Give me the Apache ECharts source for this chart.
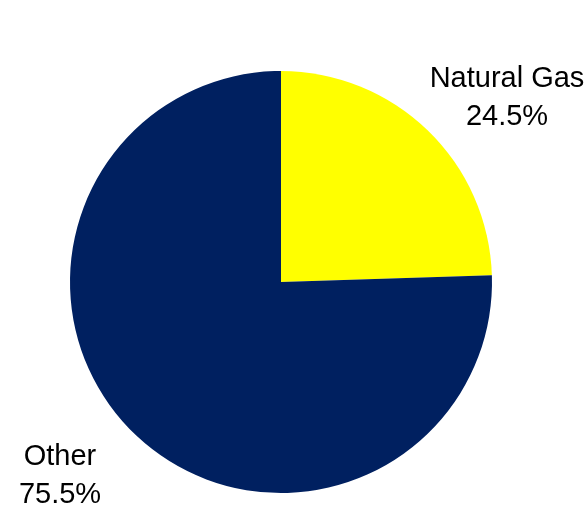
<!DOCTYPE html>
<html>
<head>
<meta charset="utf-8">
<script src="https://cdn.jsdelivr.net/npm/echarts@6/dist/echarts.min.js"></script>
<style>
  html, body { margin: 0; padding: 0; background: #ffffff; }
  #chart { width: 588px; height: 507px; }
</style>
</head>
<body>
<div id="chart"></div>
<script>
// Share of energy supply
const categories = ['Natural Gas', 'Other'];
const shares = [24.5, 75.5];
const colors = ['#FFFF00', '#002060'];

// Where each slice label block sits (centre of the two-line text)
const labelSpots = [[507, 98], [60, 476]];

const chart = echarts.init(document.getElementById('chart'), null, { renderer: 'canvas' });

chart.setOption({
  animation: false,
  backgroundColor: '#ffffff',
  series: [{
    type: 'pie',
    center: [281, 282],
    radius: [0, 211],
    startAngle: 90,
    clockwise: true,
    data: categories.map((name, i) => ({
      name: name,
      value: shares[i],
      itemStyle: { color: colors[i] }
    })),
    itemStyle: { borderWidth: 0 },
    label: {
      show: true,
      position: 'inside',
      formatter: (p) => p.name + '\n' + p.value.toFixed(1) + '%',
      fontFamily: 'Liberation Sans, Arial, sans-serif',
      fontSize: 29,
      lineHeight: 38,
      color: '#000000',
      align: 'center',
      overflow: 'none'
    },
    labelLine: { show: false },
    labelLayout: (params) => ({
      x: labelSpots[params.dataIndex][0],
      y: labelSpots[params.dataIndex][1],
      align: 'center',
      verticalAlign: 'middle'
    })
  }]
});
</script>
</body>
</html>
